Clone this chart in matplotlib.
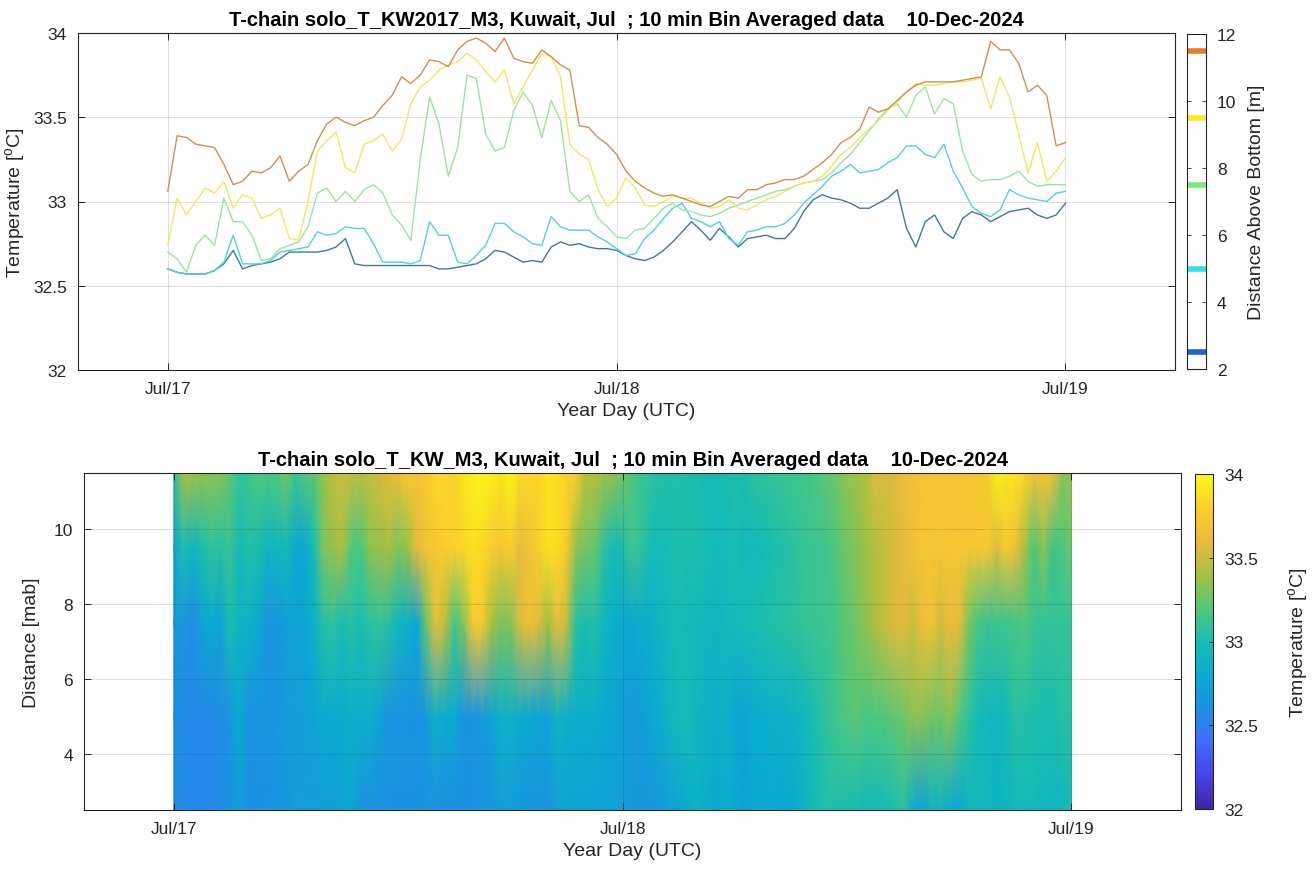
import numpy as np
import matplotlib
matplotlib.use('Agg')
import matplotlib.pyplot as plt
from matplotlib.colors import LinearSegmentedColormap

plt.rcParams['font.family'] = ['Liberation Sans', 'DejaVu Sans']
plt.rcParams['mathtext.fontset'] = 'custom'
plt.rcParams['mathtext.rm'] = 'Liberation Sans'
plt.rcParams['mathtext.it'] = 'Liberation Sans:italic'
plt.rcParams['mathtext.bf'] = 'Liberation Sans:bold'

# 10-min bin averaged T-chain, resampled to 30 min (hours since Jul 17 00:00 UTC)
hours = np.arange(0, 48.5, 0.5)
days = hours / 24.0

depths = [2.5, 5.0, 7.5, 9.5, 11.5]   # sensor height above bottom [m]

t_2p5 = [32.60, 32.58, 32.57, 32.57, 32.57, 32.59, 32.63, 32.71, 32.60, 32.62,
         32.63, 32.64, 32.66, 32.70, 32.70, 32.70, 32.70, 32.71, 32.73, 32.78,
         32.63, 32.62, 32.62, 32.62, 32.62, 32.62, 32.62, 32.62, 32.62, 32.60,
         32.60, 32.61, 32.62, 32.63, 32.66, 32.71, 32.70, 32.67, 32.64, 32.65,
         32.64, 32.73, 32.76, 32.74, 32.75, 32.73, 32.72, 32.72, 32.71, 32.68,
         32.66, 32.65, 32.67, 32.71, 32.76, 32.82, 32.88, 32.83, 32.77, 32.84,
         32.79, 32.73, 32.78, 32.79, 32.80, 32.78, 32.78, 32.84, 32.94, 33.01,
         33.04, 33.02, 33.01, 32.99, 32.96, 32.96, 32.99, 33.02, 33.07, 32.84,
         32.73, 32.88, 32.92, 32.82, 32.78, 32.90, 32.94, 32.92, 32.88, 32.91,
         32.94, 32.95, 32.96, 32.92, 32.90, 32.92, 32.99]

t_5 = [32.60, 32.58, 32.57, 32.57, 32.57, 32.59, 32.64, 32.80, 32.63, 32.63,
       32.63, 32.65, 32.70, 32.71, 32.72, 32.73, 32.82, 32.80, 32.81, 32.85,
       32.84, 32.84, 32.75, 32.64, 32.64, 32.64, 32.63, 32.65, 32.88, 32.80,
       32.80, 32.64, 32.63, 32.68, 32.74, 32.87, 32.87, 32.82, 32.79, 32.75,
       32.74, 32.91, 32.85, 32.83, 32.83, 32.83, 32.79, 32.76, 32.72, 32.68,
       32.69, 32.78, 32.83, 32.90, 32.96, 32.99, 32.90, 32.88, 32.85, 32.88,
       32.78, 32.74, 32.82, 32.83, 32.85, 32.85, 32.87, 32.92, 32.99, 33.04,
       33.09, 33.15, 33.18, 33.22, 33.17, 33.18, 33.19, 33.23, 33.26, 33.33,
       33.33, 33.28, 33.26, 33.34, 33.18, 33.08, 32.97, 32.93, 32.91, 32.95,
       33.07, 33.04, 33.02, 33.01, 33.00, 33.05, 33.06]

t_7p5 = [32.70, 32.66, 32.58, 32.74, 32.80, 32.74, 33.02, 32.88, 32.88, 32.80,
         32.65, 32.66, 32.72, 32.74, 32.76, 32.85, 33.05, 33.08, 33.00, 33.06,
         33.00, 33.07, 33.10, 33.05, 32.92, 32.86, 32.77, 33.25, 33.62, 33.46,
         33.15, 33.32, 33.75, 33.73, 33.40, 33.30, 33.32, 33.54, 33.65, 33.57,
         33.38, 33.60, 33.48, 33.06, 33.00, 33.04, 32.90, 32.85, 32.79, 32.78,
         32.83, 32.84, 32.90, 32.96, 32.99, 32.95, 32.94, 32.92, 32.91, 32.93,
         32.96, 32.98, 33.00, 33.02, 33.04, 33.06, 33.07, 33.09, 33.11, 33.12,
         33.13, 33.17, 33.23, 33.28, 33.35, 33.42, 33.49, 33.55, 33.58, 33.50,
         33.63, 33.68, 33.52, 33.61, 33.58, 33.30, 33.16, 33.12, 33.13, 33.13,
         33.15, 33.18, 33.12, 33.09, 33.10, 33.10, 33.10]

t_9p5 = [32.74, 33.02, 32.92, 33.00, 33.08, 33.05, 33.12, 32.96, 33.04, 33.02,
         32.90, 32.92, 32.96, 32.78, 32.77, 33.00, 33.30, 33.36, 33.41, 33.20,
         33.17, 33.34, 33.36, 33.40, 33.30, 33.37, 33.58, 33.68, 33.72, 33.78,
         33.81, 33.83, 33.88, 33.84, 33.77, 33.71, 33.78, 33.58, 33.68, 33.78,
         33.88, 33.86, 33.74, 33.34, 33.28, 33.25, 33.07, 32.97, 33.02, 33.14,
         33.08, 32.98, 32.97, 33.00, 33.03, 33.02, 33.02, 32.99, 32.96, 32.97,
         33.01, 32.96, 32.95, 32.98, 33.01, 33.03, 33.06, 33.09, 33.11, 33.12,
         33.15, 33.21, 33.28, 33.32, 33.38, 33.43, 33.48, 33.54, 33.59, 33.65,
         33.70, 33.69, 33.69, 33.70, 33.71, 33.71, 33.72, 33.73, 33.55, 33.74,
         33.62, 33.40, 33.17, 33.35, 33.12, 33.18, 33.26]

t_11p5 = [33.06, 33.39, 33.38, 33.34, 33.33, 33.32, 33.22, 33.10, 33.12, 33.18,
          33.17, 33.20, 33.27, 33.12, 33.18, 33.22, 33.36, 33.46, 33.50, 33.47,
          33.45, 33.48, 33.50, 33.57, 33.63, 33.74, 33.70, 33.75, 33.84, 33.83,
          33.80, 33.90, 33.95, 33.97, 33.94, 33.89, 33.97, 33.85, 33.83, 33.82,
          33.90, 33.86, 33.81, 33.78, 33.45, 33.44, 33.38, 33.34, 33.28, 33.18,
          33.12, 33.08, 33.05, 33.03, 33.04, 33.02, 33.00, 32.98, 32.97, 33.00,
          33.03, 33.02, 33.07, 33.07, 33.10, 33.11, 33.13, 33.13, 33.15, 33.19,
          33.23, 33.28, 33.35, 33.38, 33.43, 33.56, 33.53, 33.55, 33.60, 33.65,
          33.69, 33.71, 33.71, 33.71, 33.71, 33.72, 33.73, 33.74, 33.95, 33.90,
          33.90, 33.82, 33.65, 33.69, 33.63, 33.33, 33.35]

series = [t_2p5, t_5, t_7p5, t_9p5, t_11p5]
line_colors = ['#3f78a6', '#4ed2e2', '#9ae49e', '#f1e660', '#cf9150']
mark_colors = ['#1a64d6', '#2ee0e8', '#7de87d', '#f2ee22', '#e67e22']

day_ticks = [0, 1, 2]
day_labels = ['Jul/17', 'Jul/18', 'Jul/19']
x_range = (-0.2, 2.244)

# MATLAB parula
parula = LinearSegmentedColormap.from_list('parula', [
    (0.2422, 0.1504, 0.6603), (0.2788, 0.2646, 0.9134), (0.2525, 0.4243, 0.9947),
    (0.1171, 0.5655, 0.8959), (0.0356, 0.6726, 0.8133), (0.0876, 0.7432, 0.7015),
    (0.3235, 0.7816, 0.4789), (0.6513, 0.7525, 0.2525), (0.9236, 0.7331, 0.2353),
    (0.9863, 0.8088, 0.1698), (0.9769, 0.9839, 0.0805)], N=256)

W, H = 1315, 870
ink = '#262626'


def box(l, t, r, b):
    return [l / W, 1 - b / H, (r - l) / W, (b - t) / H]


def style_axes(ax):
    for s in ax.spines.values():
        s.set_color(ink)
        s.set_linewidth(0.8)
    ax.tick_params(direction='in', length=5, width=0.7, color=ink,
                   top=True, right=True, labelsize=12.5, labelcolor=ink, pad=8)


fig = plt.figure(figsize=(W / 100, H / 100), dpi=100)
title_tail = ', Kuwait, Jul  ; 10 min Bin Averaged data    10-Dec-2024'

# --- top: temperature time series
ax1 = fig.add_axes(box(78, 34, 1175, 371))
for temp, col in zip(series, line_colors):
    ax1.plot(days, temp, color=col, lw=1.0)
ax1.set_xlim(*x_range)
ax1.set_ylim(32, 34)
ax1.set_yticks([32, 32.5, 33, 33.5, 34])
ax1.set_yticklabels(['32', '32.5', '33', '33.5', '34'])
ax1.set_xticks(day_ticks)
ax1.set_xticklabels(day_labels)
ax1.grid(True, color=ink, alpha=0.15, lw=0.7)
ax1.set_axisbelow(True)
style_axes(ax1)
ax1.set_ylabel('Temperature [$^{\\rm o}$C]', fontsize=14, color=ink, labelpad=4)
ax1.set_xlabel('Year Day (UTC)', fontsize=14, color=ink, labelpad=4)
ax1.set_title('T-chain solo_T_KW2017_M3' + title_tail, fontsize=14.5,
              fontweight='bold', pad=6)

# sensor heights legend bar
cax1 = fig.add_axes(box(1187, 35, 1206, 370))
cax1.hlines(depths, 0, 1, colors=mark_colors, lw=4)
cax1.set_xlim(0, 1)
cax1.set_ylim(2, 12)
cax1.set_xticks([])
cax1.set_yticks([2, 4, 6, 8, 10, 12])
cax1.yaxis.tick_right()
cax1.yaxis.set_label_position('right')
for s in cax1.spines.values():
    s.set_color(ink)
    s.set_linewidth(0.8)
cax1.tick_params(axis='y', direction='in', length=3, width=0.6, color=ink,
                 left=True, right=True, labelsize=12.5, labelcolor=ink, pad=8)
cax1.set_ylabel('Distance Above Bottom [m]', fontsize=14, color=ink, labelpad=8)

# --- bottom: interpolated section
ax2 = fig.add_axes(box(84, 474, 1181, 811))
Tgrid = np.array(series)
mesh = ax2.pcolormesh(days, depths, Tgrid, shading='gouraud', cmap=parula,
                      vmin=32, vmax=34)
ax2.set_xlim(*x_range)
ax2.set_ylim(2.5, 11.5)
ax2.set_yticks([4, 6, 8, 10])
ax2.set_xticks(day_ticks)
ax2.set_xticklabels(day_labels)
ax2.grid(True, color=ink, alpha=0.15, lw=0.7)
ax2.set_axisbelow(False)
style_axes(ax2)
ax2.set_ylabel('Distance [mab]', fontsize=14, color=ink, labelpad=10)
ax2.set_xlabel('Year Day (UTC)', fontsize=14, color=ink, labelpad=4)
ax2.set_title('T-chain solo_T_KW_M3' + title_tail, fontsize=14.5,
              fontweight='bold', pad=6)

cax2 = fig.add_axes(box(1195, 475, 1213, 810))
cb = fig.colorbar(mesh, cax=cax2)
cb.set_ticks([32, 32.5, 33, 33.5, 34])
cb.set_ticklabels(['32', '32.5', '33', '33.5', '34'])
cb.outline.set_edgecolor(ink)
cb.outline.set_linewidth(0.8)
cax2.tick_params(direction='in', length=3, width=0.6, color=ink,
                 labelsize=12.5, labelcolor=ink, pad=8)
cb.set_label('Temperature [$^{\\rm o}$C]', fontsize=14, color=ink, labelpad=20)

fig.savefig('out.png', dpi=100, facecolor='white')
